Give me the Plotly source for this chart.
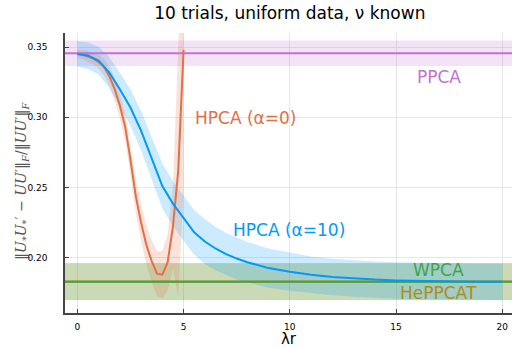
import plotly.graph_objects as go
import numpy as np

# ---- data ----
lam_a0 = [0, 0.25, 0.5, 0.75, 1.0, 1.25, 1.5, 1.75, 2.0, 2.25, 2.5, 2.75, 3.0, 3.25, 3.5, 3.75, 4.0, 4.25, 4.5, 4.75, 5.0]
hpca_a0 = [0.3452, 0.3446, 0.3434, 0.3418, 0.3395, 0.3360, 0.3295, 0.3205, 0.3085, 0.2935, 0.2700, 0.2440, 0.2250, 0.2090, 0.1975, 0.1885, 0.1878, 0.1965, 0.2220, 0.2620, 0.3480]
hpca_a0_sd = [0.003, 0.003, 0.004, 0.004, 0.005, 0.006, 0.007, 0.008, 0.009, 0.010, 0.011, 0.012, 0.013, 0.014, 0.015, 0.016, 0.017, 0.020, 0.030, 0.090, 0.100]

lam_a10 = [0, 0.5, 1.0, 1.5, 2.0, 2.5, 3.0, 3.5, 4.0, 4.5, 5.0, 5.5, 6.0, 6.5, 7.0, 7.5, 8, 9, 10, 11, 12, 13, 14, 15, 16, 17, 18, 19, 20]
hpca_a10 = [0.3452, 0.3440, 0.3405, 0.3320, 0.3200, 0.3070, 0.2905, 0.2710, 0.2510, 0.2385, 0.2280, 0.2180, 0.2115, 0.2065, 0.2025, 0.1993, 0.1967, 0.1925, 0.1899, 0.1877, 0.1862, 0.1851, 0.1843, 0.1837, 0.1833, 0.1831, 0.1829, 0.1828, 0.1828]
hpca_a10_sd = [0.009, 0.0095, 0.010, 0.011, 0.012, 0.013, 0.014, 0.015, 0.016, 0.016, 0.016, 0.016, 0.016, 0.0155, 0.015, 0.015, 0.0145, 0.014, 0.0135, 0.013, 0.013, 0.013, 0.013, 0.013, 0.013, 0.013, 0.013, 0.013, 0.013]

ppca_mean, ppca_sd = 0.3457, 0.0091
wpca_mean, wpca_sd = 0.1828, 0.0132
heppcat_mean, heppcat_sd = 0.1830, 0.0132

x_range = [-0.579, 20.456]
y_range = [0.1605, 0.3601]

BLUE = "#009AFA"; ORANGE = "#E36F47"; GREEN = "#3EA44E"; PURPLE = "#C371D2"; GOLD = "#AC8E18"

def rgba(h, a):
    h = h.lstrip("#")
    return "rgba(%d,%d,%d,%s)" % (int(h[0:2], 16), int(h[2:4], 16), int(h[4:6], 16), a)

fig = go.Figure()

def band(x, m, s, color):
    x = list(x); m = np.array(m, float); s = np.array(s, float)
    up = m + s; lo = m - s
    fig.add_trace(go.Scatter(x=x + x[::-1], y=list(up) + list(lo[::-1]), fill="toself",
                             fillcolor=rgba(color, 0.2), line=dict(width=0), mode="lines",
                             hoverinfo="skip", showlegend=False))

def line(x, y, color):
    fig.add_trace(go.Scatter(x=x, y=y, mode="lines", line=dict(color=color, width=2), showlegend=False))

hx = [x_range[0] - 0.1, x_range[1] + 0.1]
band(hx, [heppcat_mean] * 2, [heppcat_sd] * 2, GOLD)
band(hx, [wpca_mean] * 2, [wpca_sd] * 2, GREEN)
band(hx, [ppca_mean] * 2, [ppca_sd] * 2, PURPLE)
band(lam_a10, hpca_a10, hpca_a10_sd, BLUE)
band(lam_a0, hpca_a0, hpca_a0_sd, ORANGE)

line(hx, [heppcat_mean] * 2, GOLD)
line(hx, [wpca_mean] * 2, GREEN)
line(hx, [ppca_mean] * 2, PURPLE)
line(lam_a0, hpca_a0, ORANGE)
line(lam_a10, hpca_a10, BLUE)

FONT = "DejaVu Sans"
anns = [
    dict(x=17.0, y=0.3290, text="PPCA", color=PURPLE, xanchor="center"),
    dict(x=5.45, y=0.2995, text="HPCA (α=0)", color=ORANGE, xanchor="left"),
    dict(x=7.25, y=0.2199, text="HPCA (α=10)", color=BLUE, xanchor="left"),
    dict(x=17.0, y=0.1908, text="WPCA", color=GREEN, xanchor="center"),
    dict(x=17.0, y=0.1745, text="HePPCAT", color=GOLD, xanchor="center"),
]
for a in anns:
    fig.add_annotation(x=a["x"], y=a["y"], text=a["text"], showarrow=False, xanchor=a["xanchor"],
                       yanchor="middle", font=dict(family=FONT, size=17, color=a["color"]))

fig.add_annotation(xref="paper", yref="paper", x=-0.095, y=0.47, textangle=-90, showarrow=False,
                   text="‖<i>U</i><sub>*</sub><i>U</i><sub>*</sub>′ − <i>UU</i>′‖<sub><i>F</i></sub>/‖<i>UU</i>′‖<sub><i>F</i></sub>",
                   font=dict(family="DejaVu Serif", size=14, color="#555555"), xanchor="center", yanchor="middle")

fig.update_layout(
    width=512, height=348,
    margin=dict(l=65, r=0, t=33, b=33),
    plot_bgcolor="white", paper_bgcolor="white",
    title=dict(text="10 trials, uniform data, ν known", x=0.566, xanchor="center", y=0.962, yanchor="middle",
               font=dict(family=FONT, size=17, color="black")),
    font=dict(family=FONT, color="black"),
    xaxis=dict(range=x_range, tickvals=[0, 5, 10, 15, 20], ticks="inside", ticklen=4, tickcolor="#444",
               showline=True, linecolor="#444", linewidth=1.5, mirror=False, showgrid=True, gridcolor="#e6e6e6",
               zeroline=False, tickfont=dict(size=9), ticklabelstandoff=4,
               title=dict(text="λr", font=dict(size=15), standoff=6)),
    yaxis=dict(range=y_range, tickvals=[0.20, 0.25, 0.30, 0.35], tickformat=".2f", ticks="inside", ticklen=4,
               tickcolor="#444", showline=True, linecolor="#444", linewidth=1.5, showgrid=True, gridcolor="#e6e6e6",
               zeroline=False, tickfont=dict(size=9), ticklabelstandoff=14),
)

fig.write_html("out.html")
